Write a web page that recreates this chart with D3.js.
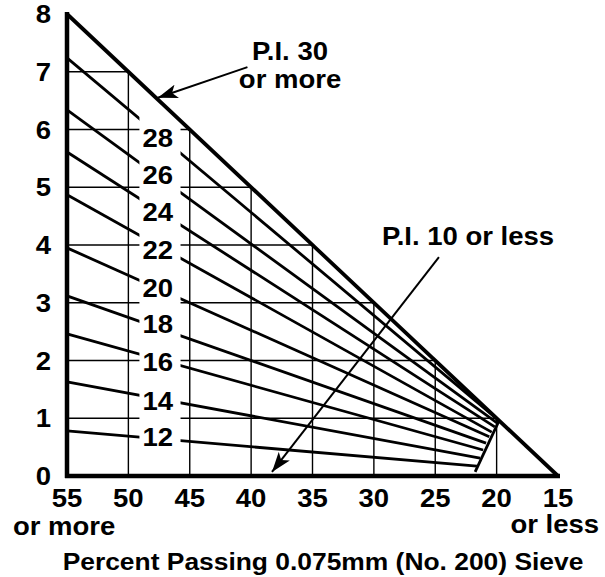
<!DOCTYPE html>
<html lang="en">
<head>
    <meta charset="UTF-8">
    <title>Percent Passing 0.075mm (No. 200) Sieve</title>
    <script src="https://d3js.org/d3.v7.min.js"></script>
    <style>
        body { margin: 0; background: #fff; }
        svg { display: block; }
        text { font-family: "Liberation Sans", Arial, sans-serif; font-weight: bold; fill: #000; }
    </style>
</head>
<body>
    <svg></svg>
    <script>
        // data
        const xTicks = [55, 50, 45, 40, 35, 30, 25, 20, 15];
        const yTicks = [0, 1, 2, 3, 4, 5, 6, 7, 8];
        const piLabels = [28, 26, 24, 22, 20, 18, 16, 14, 12];
        const piStartY = [7.24, 6.34, 5.61, 4.87, 3.95, 3.12, 2.46, 1.63, 0.78];   // at 55
        const piEndX = [19.8, 19.97, 20.15, 20.4, 20.6, 20.86, 21.1, 21.35, 21.6];
        const piEndY = [0.96, 0.92, 0.85, 0.76, 0.68, 0.57, 0.45, 0.31, 0.17];
        const piLabelY = [5.86, 5.21, 4.57, 3.91, 3.26, 2.63, 1.97, 1.30, 0.68];
        const joinLine = [[21.75, 0.07], [19.8, 0.96]];
        const limitLine = [[55, 8], [15, 0]];   // P.I. 30 or more

        const width = 605, height = 577;
        const svg = d3.select("svg").attr("width", width).attr("height", height);

        const x = d3.scaleLinear().domain([55, 15]).range([67, 558]);
        const y = d3.scaleLinear().domain([0, 8]).range([476, 14]);

        const labelX = 47.6;
        const gap = [49.1, 45.75];
        const stretch = 1.1;

        // wide bold lettering like the scanned figure
        function label(g, tx, ty, str, size, anchor) {
            return g.append("text")
                .attr("transform", `translate(${tx},${ty}) scale(${stretch},1)`)
                .attr("text-anchor", anchor || "start")
                .attr("font-size", size)
                .text(str);
        }

        svg.append("defs").append("marker")
            .attr("id", "arrow")
            .attr("viewBox", "0 -7 20 14")
            .attr("refX", 20)
            .attr("refY", 0)
            .attr("markerWidth", 20)
            .attr("markerHeight", 14)
            .attr("markerUnits", "userSpaceOnUse")
            .attr("orient", "auto")
            .append("path")
            .attr("d", "M0,-7L20,0L0,7L5,0Z")
            .attr("fill", "#000");

        // grid: staircase under the limit line
        const grid = svg.append("g").attr("stroke", "#000").attr("stroke-width", 1.4);
        grid.selectAll(".h").data(yTicks.slice(1, 8)).enter().append("line")
            .attr("x1", x(55)).attr("x2", d => x(15 + 5 * d))
            .attr("y1", d => y(d)).attr("y2", d => y(d));
        grid.selectAll(".v").data(xTicks.slice(1, 8)).enter().append("line")
            .attr("x1", d => x(d)).attr("x2", d => x(d))
            .attr("y1", y(0)).attr("y2", d => y((d - 15) / 5));

        // P.I. lines
        const pi = piLabels.map((p, i) => ({ p: p, y0: piStartY[i], x1: piEndX[i], y1: piEndY[i], ly: piLabelY[i] }));
        svg.append("g").selectAll("line").data(pi).enter().append("line")
            .attr("x1", x(55)).attr("y1", d => y(d.y0))
            .attr("x2", d => x(d.x1)).attr("y2", d => y(d.y1))
            .attr("stroke", "#000").attr("stroke-width", 2.8);

        svg.append("line")
            .attr("x1", x(joinLine[0][0])).attr("y1", y(joinLine[0][1]))
            .attr("x2", x(joinLine[1][0])).attr("y2", y(joinLine[1][1]))
            .attr("stroke", "#000").attr("stroke-width", 2.8);

        // white band for the labels
        svg.append("rect")
            .attr("x", x(gap[0])).attr("width", x(gap[1]) - x(gap[0]))
            .attr("y", y(8)).attr("height", y(0) - y(8) - 3)
            .attr("fill", "#fff");

        svg.append("line")
            .attr("x1", x(limitLine[0][0])).attr("y1", y(limitLine[0][1]))
            .attr("x2", x(limitLine[1][0])).attr("y2", y(limitLine[1][1]))
            .attr("stroke", "#000").attr("stroke-width", 3.8);

        // axes
        svg.append("line").attr("x1", x(55)).attr("x2", x(55))
            .attr("y1", y(8) - 2).attr("y2", y(0) + 2)
            .attr("stroke", "#000").attr("stroke-width", 4.5);
        svg.append("line").attr("x1", x(55) - 2).attr("x2", x(15) + 2)
            .attr("y1", y(0)).attr("y2", y(0))
            .attr("stroke", "#000").attr("stroke-width", 4.5);

        const labels = svg.append("g");
        pi.forEach(d => label(labels, x(labelX), y(d.ly) + 9, d.p, 25, "middle"));

        const ticks = svg.append("g");
        yTicks.forEach(d => label(ticks, 51, y(d) + 9, d, 25, "end"));
        xTicks.forEach(d => label(ticks, x(d), 507, d, 25, "middle"));

        label(svg, 13, 535, "or more", 25);
        label(svg, 599, 533, "or less", 25, "end");
        label(svg, 323, 570, "Percent Passing 0.075mm (No. 200) Sieve", 24, "middle");

        // annotations
        svg.append("line")
            .attr("x1", x(40.3)).attr("y1", y(7.08)).attr("x2", x(47.6)).attr("y2", y(6.55))
            .attr("stroke", "#000").attr("stroke-width", 2).attr("marker-end", "url(#arrow)");
        label(svg, 290, 60, "P.I. 30", 25, "middle");
        label(svg, 290, 88, "or more", 25, "middle");

        svg.append("line")
            .attr("x1", x(24.7)).attr("y1", y(3.79)).attr("x2", x(38.3)).attr("y2", y(0.07))
            .attr("stroke", "#000").attr("stroke-width", 2).attr("marker-end", "url(#arrow)");
        label(svg, 468, 245, "P.I. 10 or less", 25, "middle");
    </script>
</body>
</html>
